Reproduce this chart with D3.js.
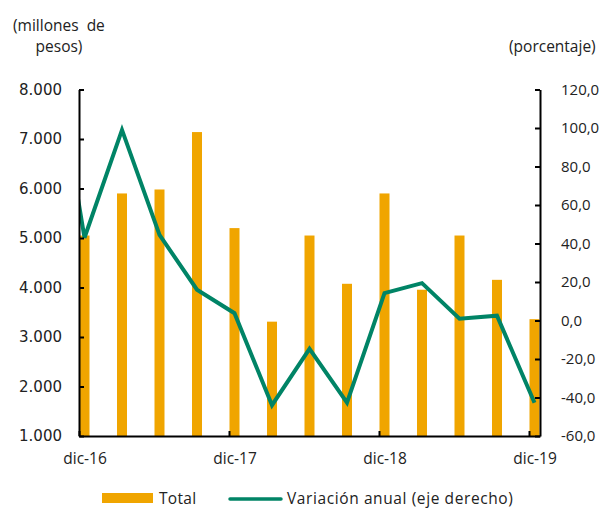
<!DOCTYPE html>
<html><head><meta charset="utf-8">
<script src="https://cdn.jsdelivr.net/npm/d3@7"></script>
<style>
html,body{margin:0;padding:0;background:#fff;}
text{font-family:"Open Sans",sans-serif;fill:#222;}
</style></head>
<body>
<svg id="chart" width="607" height="508"></svg>
<script>
// ---- data ----
const categories = ["dic-16","mar-17","jun-17","sep-17","dic-17","mar-18","jun-18","sep-18","dic-18","mar-19","jun-19","sep-19","dic-19"];
const totalValues = [5050, 5900, 5980, 7140, 5200, 3310, 5050, 4075, 5900, 3955, 5050, 4155, 3360];
// variación anual; first value is the preceding quarter (sep-16), partly visible at the left edge
const variationPrev = 160;
const variationValues = [43, 99, 44.5, 16, 3.8, -44, -14.7, -42.7, 14.2, 19.4, 0.9, 2.5, -42.7];
const xTickLabels = ["dic-16","dic-17","dic-18","dic-19"];
const leftTicks = [1000,2000,3000,4000,5000,6000,7000,8000];
const rightTicks = [-60,-40,-20,0,20,40,60,80,100,120];

const svg = d3.select("#chart");
const L = 79, R = 540, T = 89.5, B = 436;
const step = 37.5, first = 84.5;
const x = d3.scaleLinear().domain([(L-first)/step, (R-first)/step]).range([L, R]);
const yL = d3.scaleLinear().domain([1000, 8000]).range([B, T]);
const yR = d3.scaleLinear().domain([-60, 120]).range([B, T]);

const loc = d3.formatLocale({decimal:",", thousands:".", grouping:[3], currency:["",""], minus:"-"});
const fmtL = loc.format(",.0f"), fmtR = loc.format(",.1f");

const barColor = "#f0a500", lineColor = "#008466";

// bars
svg.append("g").selectAll("rect").data(totalValues).join("rect")
  .attr("x", (d,i)=>x(i)-5).attr("width", 10)
  .attr("y", d=>yL(d)).attr("height", d=>B-yL(d))
  .attr("fill", barColor);

// line (clipped to plot area)
svg.append("clipPath").attr("id","clip").append("rect")
  .attr("x", L).attr("y", 0).attr("width", R-L).attr("height", B);
const lineData = [[-1, variationPrev]].concat(variationValues.map((v,i)=>[i,v]));
svg.append("path").datum(lineData)
  .attr("clip-path","url(#clip)")
  .attr("d", d3.line().x(d=>x(d[0])).y(d=>yR(d[1])))
  .attr("fill","none").attr("stroke", lineColor).attr("stroke-width", 4)
  .attr("stroke-linejoin","miter");

// left axis
const gL = svg.append("g").attr("transform", `translate(${L},0)`)
  .call(d3.axisLeft(yL).tickValues(leftTicks).tickSize(-5).tickSizeOuter(0).tickPadding(17).tickFormat(fmtL));
gL.selectAll("text").style("font-family","'DejaVu Sans'").style("font-size","15px").attr("fill","#222");
// right axis
const gR = svg.append("g").attr("transform", `translate(${R},0)`)
  .call(d3.axisRight(yR).tickValues(rightTicks).tickSize(-5).tickSizeOuter(0).tickPadding(21).tickFormat(fmtR));
gR.selectAll("text").style("font-size","15px").attr("fill","#222");
// bottom axis
const tickOff = (L-first)/step;
const gB = svg.append("g").attr("transform", `translate(0,${B})`)
  .call(d3.axisBottom(x).tickValues([0,4,8,12]).tickSize(-5).tickSizeOuter(0).tickPadding(17)
    .tickFormat(i=>categories[i]));
gB.selectAll(".tick line").attr("x1", x(tickOff)-x(0)).attr("x2", x(tickOff)-x(0));
gB.selectAll("text").style("font-size","15.5px").attr("fill","#222");
[gL,gR,gB].forEach(g=>{g.selectAll(".domain,.tick line").attr("stroke","#000").attr("stroke-width",2);});

// axis titles
svg.append("text").attr("x",13).attr("y",31).style("font-size","15.5px").attr("xml:space","preserve").text("(millones  de");
svg.append("text").attr("x",59).attr("y",52).attr("text-anchor","middle").style("font-size","15.5px").text("pesos)");
svg.append("text").attr("x",509).attr("y",52).style("font-size","15.5px").text("(porcentaje)");

// legend
svg.append("rect").attr("x",102).attr("y",493).attr("width",51).attr("height",10).attr("fill",barColor);
svg.append("text").attr("x",159).attr("y",504).style("font-size","15.5px").style("letter-spacing","0.3px").text("Total");
svg.append("line").attr("x1",230).attr("x2",281).attr("y1",499).attr("y2",499)
  .attr("stroke",lineColor).attr("stroke-width",3.5).attr("stroke-linecap","round");
svg.append("text").attr("x",287).attr("y",504).style("font-size","15.5px").style("letter-spacing","0.6px").text("Variación anual (eje derecho)");
</script>
</body></html>
